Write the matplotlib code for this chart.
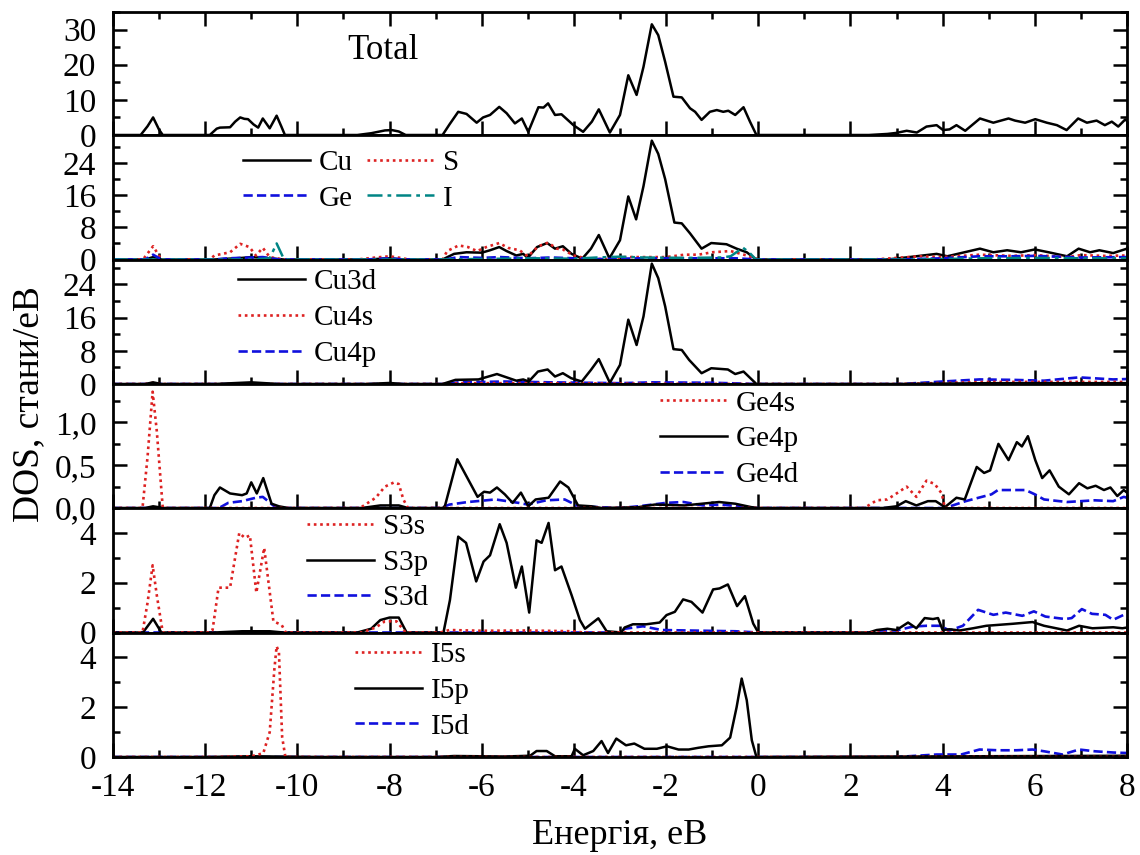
import matplotlib
matplotlib.use("Agg")
import matplotlib.pyplot as plt
from matplotlib.ticker import MultipleLocator, FuncFormatter

plt.rcParams['font.family'] = ['Liberation Serif', 'DejaVu Serif']

# ---------------- data (energy in eV, DOS in states/eV) ----------------
total_e = [-14, -13.4, -13.25, -13.13, -13.0, -12.92, -11.9, -11.75, -11.68, -11.46, -11.35, -11.24,
           -11.15, -11.07, -10.95, -10.85, -10.75, -10.6, -10.45, -10.35, -10.27, -8.7, -8.4, -8.1,
           -7.95, -7.8, -7.65, -6.85, -6.7, -6.51, -6.33, -6.11, -5.97, -5.82, -5.62, -5.46, -5.28,
           -5.13, -4.99, -4.77, -4.66, -4.56, -4.41, -4.27, -4.01, -3.80, -3.61, -3.46, -3.22, -3.0,
           -2.82, -2.64, -2.49, -2.31, -2.17, -2.02, -1.84, -1.66, -1.48, -1.37, -1.23, -1.05, -0.90,
           -0.76, -0.65, -0.50, -0.32, -0.18, -0.04, 2.4, 2.8, 3.0, 3.22, 3.44, 3.65, 3.87, 4.01,
           4.15, 4.30, 4.49, 4.81, 5.10, 5.43, 5.57, 5.79, 6.01, 6.26, 6.48, 6.69, 6.94, 7.13, 7.34,
           7.52, 7.67, 7.81, 7.96, 8.0]
total_dos = [0, 0, 2.5, 5.0, 1.5, 0, 0, 1.8, 2.1, 2.2, 3.8, 5.0,
             4.6, 4.5, 3.0, 2.1, 4.7, 1.9, 5.5, 2.5, 0, 0, 0.5, 1.3,
             1.4, 1.0, 0, 0, 3.0, 6.6, 6.0, 3.5, 5.0, 5.7, 8.0, 6.2, 3.3,
             4.7, 0.9, 7.9, 7.8, 9.0, 5.7, 5.9, 2.8, 0.9, 3.8, 7.3, 0.7, 5.7,
             17.0, 11.4, 19.4, 31.5, 28.4, 20.8, 10.9, 10.7, 7.6, 6.6, 4.3, 6.6, 7.1,
             6.6, 6.9, 5.7, 7.9, 3.8, 0, 0, 0.3, 0.6, 1.2, 0.7, 2.4, 2.8, 1.4,
             1.6, 2.8, 1.2, 4.7, 3.5, 4.7, 4.1, 3.5, 4.5, 3.5, 2.8, 1.4, 4.7, 3.5, 4.1,
             2.8, 3.8, 2.4, 4.4, 4.0]

# panel 2: atom-resolved DOS
cu_e = [-14, -13.3, -13.13, -12.95, -11.8, -11.2, -11.0, -10.6, -10.3, -8.5, -8.0, -7.7, -6.85,
        -6.6, -6.33, -6.0, -5.82, -5.62, -5.46, -5.25, -5.1, -5.0, -4.8, -4.58, -4.41, -4.24,
        -4.05, -3.82, -3.63, -3.46, -3.23, -3.0, -2.82, -2.65, -2.49, -2.31, -2.17, -2.02, -1.82,
        -1.66, -1.48, -1.23, -1.02, -0.69, -0.47, -0.25, -0.07, 0.1, 2.8, 3.2, 3.87, 4.1, 4.81,
        5.1, 5.4, 5.7, 6.0, 6.3, 6.7, 6.95, 7.2, 7.4, 7.7, 8.0]
cu_dos = [0, 0, 0.6, 0, 0, 0.4, 0.6, 0.3, 0, 0, 0.3, 0, 0,
          1.4, 1.8, 1.7, 2.3, 3.1, 2.1, 1.0, 1.4, 0.4, 3.1, 4.1, 2.7, 3.3,
          1.4, 0.2, 2.7, 6.1, 0.3, 4.8, 15.7, 10.0, 18.3, 29.6, 26.3, 20.0, 9.2,
          9.0, 6.5, 2.7, 4.1, 3.8, 2.7, 1.8, 0.2, 0, 0, 0.5, 1.4, 0.8, 2.7,
          1.8, 2.3, 1.8, 2.5, 1.8, 0.8, 2.7, 1.8, 2.3, 1.6, 2.7]

s_e = [-14, -13.35, -13.13, -12.95, -11.9, -11.8, -11.46, -11.24, -11.04, -10.9, -10.75, -10.6,
       -10.4, -10.3, -8.7, -8.3, -8.0, -7.7, -7.6, -6.85, -6.75, -6.5, -6.3, -6.1, -5.9, -5.62,
       -5.43, -5.18, -5.0, -4.77, -4.56, -4.37, -4.24, -4.01, -3.7, -3.3, -2.9, -2.0, -1.6, -1.3,
       -1.0, -0.6, -0.25, -0.07, 0.1, 2.5, 3.0, 3.5, 4.0, 4.8, 5.5, 6.0, 6.7, 7.0, 7.5, 8.0]
s_dos = [0, 0, 3.3, 0, 0, 1.0, 1.8, 3.9, 3.1, 1.0, 2.9, 0.6,
         0.2, 0, 0, 0.5, 0.8, 0.3, 0, 0, 2.1, 3.5, 3.1, 2.1, 3.1, 4.1,
         2.9, 2.3, 0.8, 3.3, 4.2, 2.7, 2.5, 1.0, 0.2, 0.1, 0.6, 0.6, 1.2, 1.2,
         1.8, 2.1, 1.0, 0.2, 0, 0, 0.4, 0.8, 0.6, 1.2, 0.9, 1.1, 0.6, 1.1, 0.9, 1.0]

ge_e = [-14, -13.3, -13.13, -12.95, -11.8, -11.5, -11.0, -10.75, -10.4, -8.5, -8.0, -7.7, -6.8,
        -6.5, -6.0, -5.6, -5.0, -4.5, -4.0, -3.5, -2.5, -1.5, -0.5, 0.0, 3.0, 4.0, 4.8, 5.5,
        6.0, 7.0, 8.0]
ge_dos = [0, 0, 1.2, 0, 0, 0.3, 0.5, 0.6, 0, 0, 0.3, 0, 0,
          0.6, 0.4, 0.6, 0.3, 0.5, 0.3, 0.1, 0.3, 0.3, 0.3, 0, 0, 0.3, 0.8, 0.8,
          0.9, 0.5, 0.6]

i_e = [-14, -11.0, -10.6, -10.45, -10.3, -10.2, -7.0, -4.8, -4.0, -3.5, -3.0, -2.5, -1.5, -0.8,
       -0.6, -0.45, -0.34, -0.2, -0.05, 3.5, 4.8, 6.0, 7.0, 8.0]
i_dos = [0, 0, 0.3, 4.0, 0.3, 0, 0, 0.3, 0.2, 0.5, 0.7, 0.5, 0.4, 0.5,
         0.8, 2.0, 3.0, 1.8, 0, 0, 0.3, 0.4, 0.3, 0.3]

# panel 3: Cu orbitals
cu3d_e = [-14, -13.3, -13.13, -12.95, -11.8, -11.0, -10.4, -8.5, -8.0, -7.7, -6.85, -6.57, -6.07,
          -5.67, -5.46, -5.25, -5.1, -4.98, -4.78, -4.57, -4.41, -4.24, -4.06, -3.83, -3.63, -3.46,
          -3.22, -3.0, -2.82, -2.64, -2.49, -2.31, -2.17, -2.02, -1.84, -1.66, -1.5, -1.23, -1.02,
          -0.66, -0.5, -0.32, -0.04, 3.0, 5.0, 8.0]
cu3d_dos = [0, 0, 0.4, 0, 0, 0.4, 0, 0, 0.25, 0, 0, 1.0, 1.1,
            2.4, 1.6, 0.8, 1.1, 0.6, 3.0, 3.5, 1.8, 2.6, 1.4, 0.6, 3.4, 6.0,
            0.3, 4.6, 15.5, 9.4, 16.3, 29.0, 25.5, 18.7, 8.4, 8.2, 5.8, 2.6, 3.8,
            3.5, 2.4, 3.0, 0, 0, 0.2, 0.2]

cu4s_e = [-14, -13.3, -13.13, -12.95, -6.8, -6.5, -4.5, -3.0, 0.0, 3.0, 5.0, 8.0]
cu4s_dos = [0, 0, 0.3, 0, 0, 0.2, 0.2, 0.1, 0, 0, 0.5, 0.5]

cu4p_e = [-14, -6.8, -6.5, -5.5, -4.5, -3.0, -2.3, -1.0, 0.0, 3.1, 4.0, 4.8, 5.5, 6.2, 6.96,
          7.7, 8.0]
cu4p_dos = [0, 0, 0.4, 0.6, 0.4, 0.2, 0.4, 0.3, 0, 0, 0.6, 1.1, 1.0, 0.8, 1.6,
            1.1, 1.2]

# panel 4: Ge orbitals
ge4s_e = [-14, -13.36, -13.25, -13.14, -13.05, -12.92, -8.64, -8.3, -8.1, -7.9, -7.8, -7.7, -7.6,
          2.3, 2.57, 2.8, 3.0, 3.22, 3.43, 3.65, 3.83, 3.98, 4.05, 8.0]
ge4s_dos = [0, 0, 0.6, 1.36, 0.9, 0, 0, 0.12, 0.25, 0.3, 0.28, 0.1, 0,
            0, 0.09, 0.1, 0.17, 0.25, 0.13, 0.32, 0.28, 0.17, 0, 0]

ge4p_e = [-14, -13.3, -13.13, -12.9, -11.9, -11.8, -11.68, -11.46, -11.2, -11.1, -11.0, -10.88,
          -10.74, -10.56, -10.4, -10.2, -8.6, -8.2, -7.8, -7.6, -6.85, -6.8, -6.53, -6.33, -6.09,
          -5.95, -5.82, -5.67, -5.5, -5.33, -5.15, -4.99, -4.83, -4.55, -4.3, -4.12, -3.91, -3.62,
          -3.4, -2.6, -2.25, -1.6, -0.85, -0.5, -0.15, 0.0, 2.7, 3.0, 3.2, 3.43, 3.68, 3.85, 4.05,
          4.3, 4.48, 4.74, 4.9, 5.03, 5.21, 5.43, 5.61, 5.72, 5.85, 6.01, 6.16, 6.32, 6.52, 6.74,
          6.96, 7.14, 7.32, 7.5, 7.64, 7.79, 7.93, 8.0]
ge4p_dos = [0, 0, 0.02, 0, 0, 0.15, 0.24, 0.17, 0.15, 0.17, 0.30, 0.17,
            0.35, 0.05, 0.02, 0, 0, 0.03, 0.03, 0, 0, 0.02, 0.57, 0.37, 0.13,
            0.19, 0.18, 0.24, 0.16, 0.06, 0.18, 0.02, 0.1, 0.12, 0.31, 0.24, 0.03, 0.02,
            0, 0.01, 0.04, 0.03, 0.07, 0.05, 0.01, 0, 0, 0.02, 0.08, 0.03, 0.08, 0.08, 0.01,
            0.12, 0.1, 0.48, 0.41, 0.44, 0.75, 0.56, 0.77, 0.72, 0.84, 0.56, 0.35, 0.44, 0.25, 0.16,
            0.29, 0.23, 0.26, 0.21, 0.24, 0.14, 0.21, 0.18]

ge4d_e = [-14, -11.7, -11.5, -11.2, -10.9, -10.75, -10.5, -10.3, -6.9, -6.7, -6.3, -5.7, -5.2,
          -5.0, -4.6, -4.2, -3.9, -3.0, -2.6, -2.0, -1.62, -1.2, -0.8, -0.1, 4.05, 4.5, 5.06,
          5.2, 5.8, 6.0, 6.2, 6.7, 7.3, 7.7, 7.93, 8.0]
ge4d_dos = [0, 0, 0.06, 0.08, 0.12, 0.13, 0.02, 0, 0, 0.04, 0.07, 0.1, 0.06,
            0.04, 0.09, 0.1, 0.02, 0, 0.02, 0.06, 0.07, 0.03, 0.04, 0, 0, 0.08, 0.16,
            0.21, 0.21, 0.16, 0.1, 0.07, 0.09, 0.08, 0.13, 0.12]

# panel 5: S orbitals
s3s_e = [-14, -13.36, -13.25, -13.14, -13.05, -12.92, -11.9, -11.84, -11.71, -11.46, -11.26,
         -11.14, -11.03, -10.89, -10.72, -10.52, -10.34, -10.25, -8.6, -8.3, -8.1, -7.85, -7.65,
         -6.9, -6.7, -6.0, -5.0, -4.0, -3.8, 8.0]
s3s_dos = [0, 0, 1.2, 2.7, 1.5, 0, 0, 0.1, 1.8, 1.8, 4.0,
           3.8, 3.9, 1.6, 3.4, 0.45, 0.3, 0, 0, 0.2, 0.45, 0.45, 0,
           0, 0.1, 0.07, 0.08, 0.05, 0, 0]

s3p_e = [-14, -13.35, -13.13, -12.95, -11.8, -11.2, -10.6, -10.3, -8.7, -8.4, -8.2, -8.0, -7.8,
         -7.63, -6.83, -6.69, -6.51, -6.34, -6.12, -5.96, -5.82, -5.61, -5.46, -5.26, -5.13,
         -4.97, -4.81, -4.70, -4.55, -4.41, -4.27, -4.05, -3.87, -3.76, -3.47, -3.29, -2.97,
         -2.9, -2.72, -2.43, -2.14, -1.99, -1.81, -1.63, -1.45, -1.21, -0.98, -0.84, -0.66,
         -0.46, -0.29, -0.11, 0.0, 2.4, 2.57, 2.8, 3.0, 3.25, 3.43, 3.61, 3.79, 3.9, 4.0, 4.15,
         4.37, 4.66, 4.95, 5.52, 5.95, 6.2, 6.7, 6.96, 7.25, 7.7, 7.9, 8.0]
s3p_dos = [0, 0, 0.55, 0, 0, 0.05, 0.05, 0, 0, 0.15, 0.5, 0.6, 0.6,
           0, 0, 1.3, 3.85, 3.6, 2.05, 2.85, 3.1, 4.35, 3.6, 1.8, 2.65,
           0.8, 3.7, 3.6, 4.4, 2.5, 2.65, 1.5, 0.5, 0.15, 0.57, 0.05, 0,
           0.2, 0.33, 0.33, 0.4, 0.7, 0.83, 1.33, 1.23, 0.8, 1.73, 1.77, 1.93,
           1.06, 1.46, 0.36, 0, 0, 0.1, 0.15, 0.1, 0.4, 0.17, 0.58, 0.54, 0.58, 0.1, 0.13,
           0.08, 0.17, 0.27, 0.35, 0.42, 0.27, 0.08, 0.27, 0.17, 0.21, 0.17, 0.2]

s3d_e = [-14, -3.0, -2.9, -2.5, -2.1, -1.5, -0.5, 0.0, 2.5, 2.65, 3.0, 3.36, 3.65, 3.94, 4.15,
         4.44, 4.77, 5.1, 5.37, 5.73, 5.98, 6.23, 6.66, 6.8, 7.02, 7.24, 7.53, 7.7, 7.93, 8.0]
s3d_dos = [0, 0, 0.15, 0.25, 0.1, 0.08, 0.05, 0, 0, 0.08, 0.08, 0.24, 0.27, 0.27, 0.08,
           0.27, 0.91, 0.71, 0.8, 0.67, 0.85, 0.64, 0.54, 0.58, 0.94, 0.75, 0.71, 0.51, 0.71, 0.65]

# panel 6: I orbitals
i5s_e = [-14, -11.75, -11.0, -10.74, -10.6, -10.5, -10.45, -10.4, -10.33, -10.26, 8.0]
i5s_dos = [0, 0, 0.03, 0.15, 1.0, 3.5, 4.45, 4.2, 0.8, 0, 0]

i5p_e = [-14, -12.0, -11.0, -9.5, -7.0, -6.6, -5.5, -4.95, -4.81, -4.59, -4.41, -4.05, -3.98,
         -3.8, -3.58, -3.4, -3.26, -3.08, -2.87, -2.69, -2.47, -2.2, -1.98, -1.73, -1.51, -1.3,
         -1.08, -0.79, -0.61, -0.47, -0.36, -0.25, -0.14, -0.04, 8.0]
i5p_dos = [0, 0, 0.03, 0, 0, 0.04, 0.02, 0.05, 0.24, 0.24, 0.03, 0.03, 0.33,
           0.07, 0.24, 0.64, 0.16, 0.74, 0.47, 0.54, 0.33, 0.33, 0.43, 0.3, 0.3, 0.37,
           0.43, 0.47, 0.78, 2.0, 3.15, 2.28, 0.67, 0, 0.05]

i5d_e = [-14, 3.0, 3.87, 4.4, 4.8, 5.2, 5.6, 5.95, 6.2, 6.6, 6.96, 7.3, 7.7, 8.0]
i5d_dos = [0, 0, 0.1, 0.1, 0.3, 0.27, 0.27, 0.3, 0.23, 0.1, 0.3, 0.23, 0.18, 0.16]

x_ticks = [-14, -12, -10, -8, -6, -4, -2, 0, 2, 4, 6, 8]
x_label = "Енергія, eB"
y_label = "DOS, стани/eB"

# ---------------- styles ----------------
RED = '#dd2222'
BLUE = '#1010dd'
TEAL = '#008585'
LW = 1.8
solid = dict(color='black', lw=LW, ls='-')
dotted = dict(color=RED, lw=LW + 0.1, ls=(0, (1, 1.4)))
dashed = dict(color=BLUE, lw=LW + 0.1, ls=(0, (3.5, 1.6)))
dashdot = dict(color=TEAL, lw=LW, ls=(0, (6, 2, 1.5, 2)))

TICK_FS = 24
LEG_FS = 21

fig = plt.figure(figsize=(11.4, 8.55), dpi=100)
W, H = 1140.0, 855.0
left_px, right_px = 113, 1127
edges = [12, 135, 259.5, 384, 508, 632.5, 757]
axes = []
for k in range(6):
    top, bot = edges[k], edges[k + 1]
    ax = fig.add_axes([left_px / W, 1 - bot / H, (right_px - left_px) / W, (bot - top) / H])
    axes.append(ax)

ylims = [35, 31, 30, 1.45, 5.0, 5.0]
ymaj = [10, 8, 8, 0.5, 2, 2]
ymin = [5, 4, 4, 0.25, 1, 1]

for k, ax in enumerate(axes):
    ax.set_xlim(-14, 8)
    ax.set_ylim(0, ylims[k])
    ax.xaxis.set_major_locator(MultipleLocator(2))
    ax.xaxis.set_minor_locator(MultipleLocator(1))
    ax.yaxis.set_major_locator(MultipleLocator(ymaj[k]))
    ax.yaxis.set_minor_locator(MultipleLocator(ymin[k]))
    ax.tick_params(which='both', direction='in', top=(k == 0), bottom=True,
                   left=True, right=True, width=1.8, labelsize=TICK_FS)
    ax.tick_params(axis='y', which='both', pad=12)
    ax.tick_params(axis='x', which='both', pad=11)
    ax.tick_params(which='major', length=10)
    ax.tick_params(which='minor', length=5)
    for sp in ax.spines.values():
        sp.set_linewidth(2.0)
    if k < 5:
        ax.tick_params(labelbottom=False)
    else:
        ax.set_xticks(x_ticks)
        ax.set_xticklabels([str(v) for v in x_ticks])
    if k == 3:
        ax.yaxis.set_major_formatter(FuncFormatter(lambda v, p: f"{v:.1f}".replace('.', ',')))
    else:
        ax.yaxis.set_major_formatter(FuncFormatter(lambda v, p: f"{v:g}"))

# panel 1
axes[0].plot(total_e, total_dos, **solid)
axes[0].text(0.231, 0.69, "Total", transform=axes[0].transAxes, fontsize=25,
             va='center', ha='left')

leg_kw = dict(frameon=False, fontsize=LEG_FS, handlelength=2.3, handletextpad=0.3,
              labelspacing=0.32, borderpad=0, borderaxespad=0, loc='center left')

# panel 2
a = axes[1]
h1, = a.plot(cu_e, cu_dos, **solid, label='Cu')
h2, = a.plot(s_e, s_dos, **dotted, label='S')
h3, = a.plot(ge_e, ge_dos, **dashed, label='Ge')
h4, = a.plot(i_e, i_dos, **dashdot, label='I')
a.legend([h1, h3, h2, h4], ['Cu', 'Ge', 'S', 'I'], ncol=2, columnspacing=0.5,
         bbox_to_anchor=(0.128, 0.635), **leg_kw)

# panel 3
a = axes[2]
a.plot(cu4p_e, cu4p_dos, **dashed, label='Cu4p')
a.plot(cu4s_e, cu4s_dos, **dotted, label='Cu4s')
a.plot(cu3d_e, cu3d_dos, **solid, label='Cu3d')
hh, ll = a.get_legend_handles_labels()
a.legend(hh[::-1], ll[::-1], bbox_to_anchor=(0.123, 0.53), **leg_kw)

# panel 4
a = axes[3]
a.plot(ge4d_e, ge4d_dos, **dashed, label='Ge4d')
a.plot(ge4p_e, ge4p_dos, **solid, label='Ge4p')
a.plot(ge4s_e, ge4s_dos, **dotted, label='Ge4s')
hh, ll = a.get_legend_handles_labels()
a.legend(hh[::-1], ll[::-1], bbox_to_anchor=(0.539, 0.556), **leg_kw)

# panel 5
a = axes[4]
a.plot(s3d_e, s3d_dos, **dashed, label='S3d')
a.plot(s3p_e, s3p_dos, **solid, label='S3p')
a.plot(s3s_e, s3s_dos, **dotted, label='S3s')
hh, ll = a.get_legend_handles_labels()
a.legend(hh[::-1], ll[::-1], bbox_to_anchor=(0.191, 0.562), **leg_kw)

# panel 6
a = axes[5]
a.plot(i5d_e, i5d_dos, **dashed, label='I5d')
a.plot(i5p_e, i5p_dos, **solid, label='I5p')
a.plot(i5s_e, i5s_dos, **dotted, label='I5s')
hh, ll = a.get_legend_handles_labels()
a.legend(hh[::-1], ll[::-1], bbox_to_anchor=(0.239, 0.533), **leg_kw)

axes[5].set_xlabel(x_label, fontsize=26, labelpad=12)
fig.text(0.025, 1 - 404 / H, y_label, rotation=90, fontsize=27, va='center', ha='center')

fig.savefig('out.png', dpi=100)
